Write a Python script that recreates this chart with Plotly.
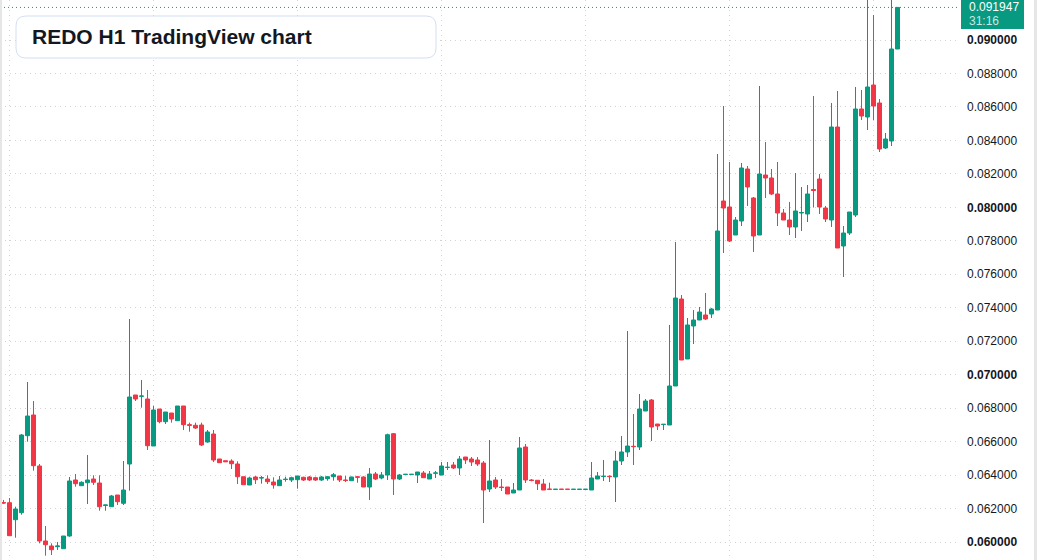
import plotly.graph_objects as go

# ---- data ----
bar_index = list(range(150))

open_ = [0.062363,0.062351,0.061335,0.061754,0.066355,0.067592,0.064544,0.060063,0.059764,0.059722,
0.059602,0.060361,0.063708,0.063367,0.063546,0.063767,0.063528,0.062184,0.062112,0.062811,
0.062315,0.064664,0.068787,0.068709,0.068548,0.065739,0.067950,0.067191,0.067711,0.067251,
0.068130,0.067012,0.066976,0.066994,0.065978,0.066456,0.064963,0.064861,0.064843,0.064664,
0.063905,0.063409,0.063887,0.063827,0.063767,0.063588,0.063367,0.063738,0.063708,0.063726,
0.063869,0.063887,0.063845,0.063708,0.063785,0.063905,0.063947,0.063708,0.063666,0.063899,
0.063887,0.063289,0.064066,0.063827,0.064006,0.066474,0.063767,0.064036,0.064036,0.064006,
0.064126,0.063767,0.064114,0.064006,0.064455,0.064604,0.064425,0.065082,0.064963,0.064903,
0.064723,0.063170,0.063708,0.063289,0.063289,0.062931,0.063110,0.065680,0.063708,0.063690,
0.063469,0.063160,0.063150,0.063154,0.063154,0.063150,0.063150,0.063150,0.063110,0.063767,
0.063917,0.063929,0.063887,0.064843,0.065381,0.065721,0.065680,0.067831,0.068488,0.067054,
0.067024,0.066994,0.069325,0.074523,0.070938,0.072910,0.073268,0.073567,0.073627,0.073866,
0.080379,0.080021,0.078348,0.079184,0.082291,0.080559,0.078348,0.081933,0.081754,0.080798,
0.079662,0.079244,0.078826,0.079662,0.079602,0.081066,0.081694,0.079961,0.079244,0.084801,
0.077690,0.078467,0.079543,0.085877,0.085399,0.087311,0.086235,0.083546,0.083965,0.089462]

high = [0.062513,0.062632,0.062112,0.066456,0.069564,0.068428,0.064664,0.060959,0.059925,0.060003,
0.060361,0.063887,0.064066,0.063630,0.065202,0.063988,0.063988,0.062232,0.062811,0.062811,
0.064843,0.073328,0.068787,0.069683,0.069086,0.068130,0.067950,0.067771,0.067711,0.068130,
0.068130,0.067132,0.067132,0.067132,0.066695,0.066695,0.064963,0.064861,0.064945,0.064825,
0.063905,0.063905,0.063947,0.063947,0.063988,0.063869,0.063947,0.063905,0.063905,0.063947,
0.063905,0.063947,0.063905,0.063947,0.063947,0.064126,0.063947,0.063947,0.063905,0.063929,
0.063929,0.064425,0.064186,0.064186,0.066474,0.066516,0.064066,0.064048,0.064048,0.064186,
0.064245,0.064245,0.064245,0.064783,0.064783,0.064783,0.065142,0.065082,0.065082,0.065082,
0.064843,0.066098,0.063887,0.063767,0.063289,0.063528,0.066277,0.065859,0.063767,0.063690,
0.063767,0.063546,0.063152,0.063154,0.063154,0.063152,0.063152,0.063152,0.064783,0.064186,
0.064903,0.063988,0.065441,0.066337,0.072611,0.067651,0.068847,0.068548,0.068548,0.067054,
0.067036,0.072970,0.077929,0.074762,0.073388,0.073866,0.074045,0.074882,0.073986,0.083188,
0.086056,0.082710,0.079423,0.082650,0.082471,0.080618,0.087251,0.083905,0.082291,0.082710,
0.079901,0.080320,0.082052,0.081216,0.081335,0.086654,0.081993,0.080081,0.086235,0.086952,
0.078885,0.079722,0.087191,0.087012,0.092500,0.091494,0.086474,0.084443,0.092500,0.091947]

low = [0.062274,0.060379,0.060260,0.061634,0.065996,0.064263,0.059925,0.059184,0.059226,0.059525,
0.059602,0.060320,0.063307,0.063367,0.062274,0.063409,0.061873,0.061873,0.062112,0.062214,
0.062214,0.063068,0.068428,0.068028,0.065500,0.065739,0.067096,0.067054,0.067132,0.067251,
0.066695,0.066594,0.066755,0.065739,0.065937,0.064783,0.064741,0.064801,0.064365,0.063469,
0.063427,0.063409,0.063469,0.063487,0.063469,0.063188,0.063367,0.063606,0.063588,0.063188,
0.063648,0.063648,0.063648,0.063648,0.063666,0.063666,0.063588,0.063588,0.063666,0.063546,
0.063289,0.062513,0.063708,0.063749,0.063708,0.062811,0.063708,0.064036,0.064036,0.063528,
0.063845,0.063767,0.063827,0.064006,0.064305,0.064365,0.064006,0.064664,0.064544,0.064544,
0.061138,0.062991,0.063170,0.063050,0.062871,0.062931,0.063110,0.063528,0.063630,0.063110,
0.063110,0.063152,0.063150,0.063152,0.063152,0.063150,0.063150,0.063150,0.063110,0.063767,
0.063648,0.063588,0.062393,0.064604,0.065082,0.064604,0.065500,0.067831,0.066038,0.066695,
0.066695,0.066994,0.069325,0.070878,0.070938,0.071834,0.073268,0.073268,0.073388,0.073866,
0.077272,0.077929,0.078348,0.078885,0.080081,0.077332,0.078348,0.080559,0.080738,0.078885,
0.079244,0.078348,0.078168,0.078587,0.079124,0.079991,0.079602,0.079124,0.078826,0.077571,
0.075838,0.078348,0.079423,0.085219,0.084622,0.085219,0.083307,0.083487,0.083666,0.089462]

close = [0.062333,0.060379,0.061975,0.066397,0.067532,0.064562,0.060063,0.059842,0.059543,0.059764,
0.060361,0.063648,0.063487,0.063570,0.063708,0.063570,0.062112,0.062214,0.062752,0.062411,
0.063110,0.068667,0.068548,0.068727,0.065757,0.067891,0.067191,0.067771,0.067353,0.068130,
0.067012,0.066976,0.066815,0.065799,0.066576,0.064903,0.064741,0.064801,0.064682,0.063905,
0.063427,0.063827,0.063726,0.063845,0.063606,0.063409,0.063708,0.063749,0.063845,0.063947,
0.063708,0.063708,0.063708,0.063887,0.063905,0.064024,0.063708,0.063678,0.063887,0.063875,
0.063289,0.064066,0.063767,0.064006,0.066415,0.063767,0.064006,0.064048,0.064048,0.064186,
0.063845,0.064066,0.064126,0.064544,0.064467,0.064425,0.064963,0.064903,0.064783,0.064664,
0.063110,0.063648,0.063289,0.063259,0.062871,0.063110,0.065620,0.063708,0.063678,0.063487,
0.063110,0.063152,0.063152,0.063152,0.063152,0.063152,0.063152,0.063152,0.063827,0.063947,
0.063929,0.063911,0.064843,0.065381,0.065739,0.065703,0.067950,0.068428,0.066875,0.066934,
0.067036,0.069325,0.074583,0.070878,0.072970,0.073268,0.073746,0.073328,0.073926,0.078587,
0.079961,0.077989,0.079244,0.082351,0.081216,0.078288,0.081993,0.081754,0.080798,0.079662,
0.079244,0.078826,0.079782,0.079692,0.080798,0.081007,0.080021,0.079304,0.084801,0.077571,
0.078467,0.079722,0.085877,0.085458,0.087191,0.086056,0.083487,0.084084,0.089462,0.091947]

y_tick_values = [0.060, 0.062, 0.064, 0.066, 0.068, 0.070, 0.072, 0.074,
                 0.076, 0.078, 0.080, 0.082, 0.084, 0.086, 0.088, 0.090]
y_tick_labels = ["<b>0.060000</b>", "0.062000", "0.064000", "0.066000", "0.068000",
                 "<b>0.070000</b>", "0.072000", "0.074000", "0.076000", "0.078000",
                 "<b>0.080000</b>", "0.082000", "0.084000", "0.086000", "0.088000",
                 "<b>0.090000</b>"]
day_start_bars = [1, 25, 49, 73, 97, 121, 145]
last_price = 0.091947
last_price_label = "0.091947"
countdown_label = "31:16"
title_text = "REDO H1 TradingView chart"

# ---- style ----
UP = "#089981"
DOWN = "#F23645"
TEXT = "#131722"
GRID = "#cfd2d8"
FONT = "Liberation Sans, Arial, sans-serif"
W, H = 1037, 560
PLOT_W = 960

fig = go.Figure(go.Candlestick(
    x=bar_index, open=open_, high=high, low=low, close=close,
    increasing=dict(line=dict(color=UP, width=1), fillcolor=UP),
    decreasing=dict(line=dict(color=DOWN, width=1), fillcolor=DOWN),
    whiskerwidth=0, hoverinfo="skip", showlegend=False,
))

px_per_bar = 6.0
first_center_px = 3.5
x_lo = -first_center_px / px_per_bar
x_hi = x_lo + PLOT_W / px_per_bar

fig.update_layout(
    width=W, height=H,
    margin=dict(l=0, r=W - PLOT_W, t=0, b=0),
    paper_bgcolor="white", plot_bgcolor="white",
    boxgap=0.33, boxgroupgap=0,
    font=dict(family=FONT, color=TEXT, size=12),
    xaxis=dict(range=[x_lo, x_hi], rangeslider=dict(visible=False),
               tickvals=day_start_bars, showticklabels=False, ticks="",
               showgrid=True, gridcolor=GRID, griddash="1px,4px", gridwidth=1,
               zeroline=False, showline=False, fixedrange=True),
    yaxis=dict(range=[0.058927, 0.092390], side="right",
               tickvals=y_tick_values, ticktext=y_tick_labels, ticks="",
               ticklabelstandoff=6,
               tickfont=dict(family=FONT, size=12, color=TEXT),
               showgrid=True, gridcolor=GRID, griddash="1px,4px", gridwidth=1,
               zeroline=False, showline=False, fixedrange=True),
)

def px_x(p):
    return p / PLOT_W

def px_y(p):
    return 1 - p / H

shapes = []
# last price dotted line
shapes.append(dict(type="line", xref="paper", yref="y", x0=0, x1=1,
                   y0=last_price, y1=last_price,
                   line=dict(color=UP, width=1, dash="1px,3px"), layer="below"))
# last price box
shapes.append(dict(type="rect", xref="paper", yref="paper",
                   x0=px_x(961), x1=px_x(1024), y0=px_y(29), y1=px_y(0),
                   fillcolor=UP, line=dict(width=0), layer="above"))
# frame strips at page edges
shapes.append(dict(type="rect", xref="paper", yref="paper",
                   x0=px_x(0), x1=px_x(2), y0=0, y1=1,
                   fillcolor="#e6e6e6", line=dict(width=0), layer="above"))
shapes.append(dict(type="rect", xref="paper", yref="paper",
                   x0=px_x(1034), x1=px_x(1037), y0=0, y1=1,
                   fillcolor="#e6e6e6", line=dict(width=0), layer="above"))
# rounded title box
x0, x1 = px_x(16), px_x(436)
yt, yb = px_y(16), px_y(58)
rx, ry = 10 / PLOT_W, 10 / H
path = (f"M {x0+rx},{yt} L {x1-rx},{yt} Q {x1},{yt} {x1},{yt-ry} "
        f"L {x1},{yb+ry} Q {x1},{yb} {x1-rx},{yb} L {x0+rx},{yb} "
        f"Q {x0},{yb} {x0},{yb+ry} L {x0},{yt-ry} Q {x0},{yt} {x0+rx},{yt} Z")
shapes.append(dict(type="path", xref="paper", yref="paper", path=path,
                   fillcolor="white", line=dict(color="#d3dff3", width=1), layer="above"))
fig.update_layout(shapes=shapes)

fig.add_annotation(xref="paper", yref="paper", x=px_x(29.5), y=px_y(36.5),
                   xanchor="left", yanchor="middle", showarrow=False,
                   text=f"<b>{title_text}</b>",
                   font=dict(family=FONT, size=21, color=TEXT))
fig.add_annotation(xref="paper", yref="paper", x=px_x(967), y=px_y(7.5),
                   xanchor="left", yanchor="middle", showarrow=False,
                   text=last_price_label, font=dict(family=FONT, size=12, color="white"))
fig.add_annotation(xref="paper", yref="paper", x=px_x(967), y=px_y(21.5),
                   xanchor="left", yanchor="middle", showarrow=False,
                   text=countdown_label,
                   font=dict(family=FONT, size=12, color="rgba(255,255,255,0.78)"))

fig.write_html("out.html", config=dict(displayModeBar=False, staticPlot=True))
